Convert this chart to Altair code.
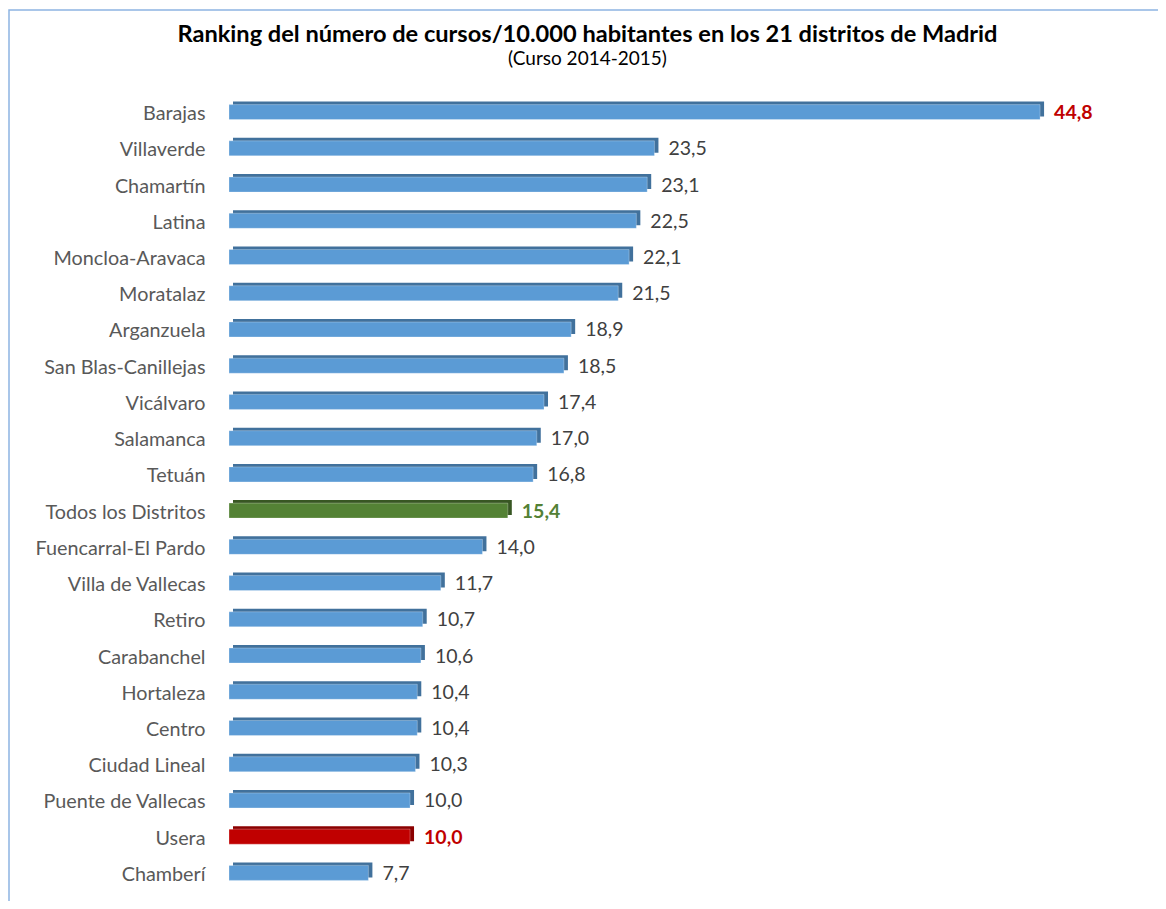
import altair as alt
import pandas as pd

distritos = ["Barajas", "Villaverde", "Chamartín", "Latina\u00a0", "Moncloa-Aravaca\u00a0",
             "Moratalaz\u00a0", "Arganzuela", "San Blas-Canillejas", "Vicálvaro\u00a0", "Salamanca",
             "Tetuán", "Todos los Distritos", "Fuencarral-El Pardo", "Villa de Vallecas",
             "Retiro\u00a0", "Carabanchel\u00a0", "Hortaleza", "Centro\u00a0", "Ciudad Lineal\u00a0",
             "Puente de Vallecas", "Usera", "Chamberí\u00a0"]
valores = [44.8, 23.5, 23.1, 22.5, 22.1, 21.5, 18.9, 18.5, 17.4, 17.0, 16.8,
           15.4, 14.0, 11.7, 10.7, 10.6, 10.4, 10.4, 10.3, 10.0, 10.0, 7.7]
grupos = ["max"] + ["normal"] * 10 + ["total"] + ["normal"] * 8 + ["min", "normal"]

etiquetas = [f"{v:.1f}".replace(".", ",") for v in valores]
df = pd.DataFrame({"distrito": distritos, "valor": valores, "grupo": grupos, "etiqueta": etiquetas})

dom = ["normal", "max", "total", "min"]
front_rng = ["#5B9BD5", "#5B9BD5", "#548235", "#C00000"]
back_rng = ["#41719C", "#41719C", "#385723", "#8B0000"]
text_rng = ["#404040", "#C00000", "#538135", "#C00000"]

xenc = alt.X("valor:Q", scale=alt.Scale(domain=[0, 48]), axis=None)
yenc = alt.Y("distrito:N", sort=distritos, title=None,
             axis=alt.Axis(ticks=False, domain=False, labelPadding=24, labelFont="Lato",
                           labelFontSize=19.8, labelColor="#595959", labelLimit=300,
                           labelOffset=2))

base = alt.Chart(df).encode(y=yenc)

back = base.mark_bar(size=15, xOffset=4, x2Offset=4, yOffset=-3, y2Offset=-3).encode(
    x=xenc,
    color=alt.Color("grupo:N", scale=alt.Scale(domain=dom, range=back_rng), legend=None),
)
front = base.mark_bar(size=15, stroke="#FFFFFF", strokeOpacity=0.35, strokeWidth=0.8).encode(
    x=xenc,
    color=alt.Color("grupo:N", scale=alt.Scale(domain=dom, range=front_rng), legend=None),
)
txt_normal = base.transform_filter(alt.datum.grupo == "normal").mark_text(
    align="left", dx=14, dy=1, font="Lato", fontSize=19.5, color="#404040"
).encode(x=xenc, text="etiqueta:N")
txt_bold = base.transform_filter(alt.datum.grupo != "normal").mark_text(
    align="left", dx=14, dy=1, font="Lato", fontSize=19.5, fontWeight="bold"
).encode(
    x=xenc, text="etiqueta:N",
    color=alt.Color("grupo:N", scale=alt.Scale(domain=dom, range=text_rng), legend=None),
)

frame = alt.Chart(pd.DataFrame({"a": [0]})).mark_rect(
    filled=False, stroke="#8DB4E2", strokeWidth=1.5
).encode(x=alt.value(-220), x2=alt.value(2000), y=alt.value(-84), y2=alt.value(2000))

chart = alt.layer(frame, back, front, txt_normal, txt_bold).resolve_scale(
    color="independent"
).properties(
    width=869,
    height=797,
    autosize=alt.AutoSizeParams(type="none"),
    padding={"left": 221, "top": 86, "right": 60, "bottom": 10},
    title=alt.TitleParams(
        text="Ranking del número de cursos/10.000 habitantes en los 21 distritos de Madrid",
        subtitle="(Curso 2014-2015)",
        font="Lato", fontSize=23.6, fontWeight="bold", color="#000000",
        subtitleFont="Lato", subtitleFontSize=19, subtitleColor="#000000",
        anchor="middle", frame="group", dx=-76, offset=-60, subtitlePadding=4,
    ),
).configure_view(strokeWidth=0)

chart.save("out.html", embed_options={"renderer": "svg", "actions": False})
